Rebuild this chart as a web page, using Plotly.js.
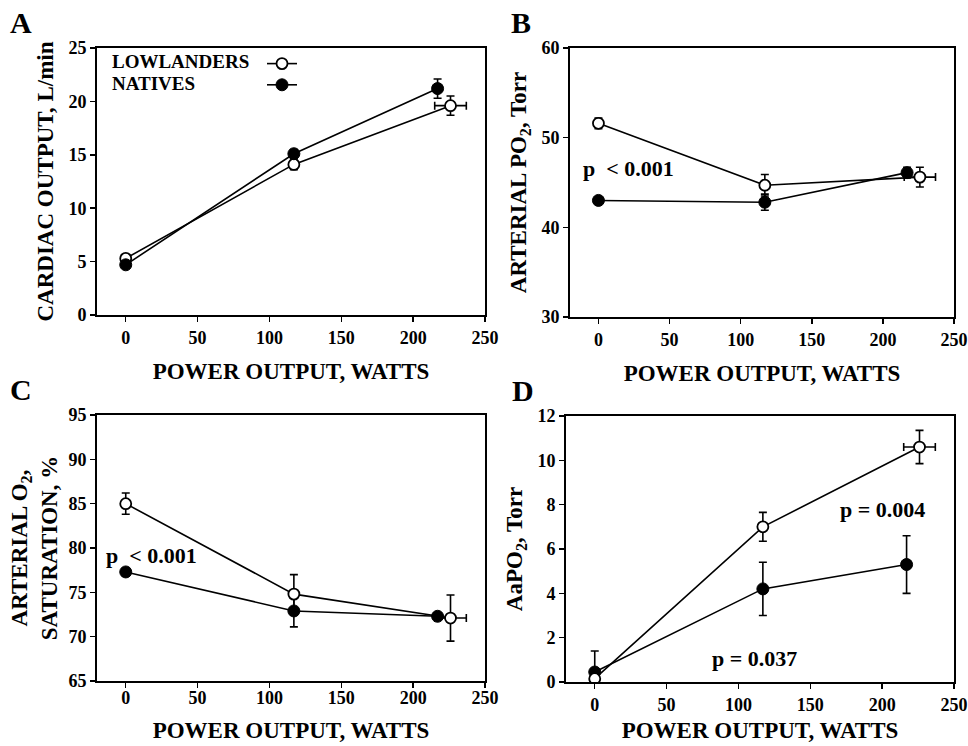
<!DOCTYPE html>
<html>
<head>
<meta charset="utf-8">
<script src="https://cdn.plot.ly/plotly-3.0.1.min.js"></script>
<style>html,body{margin:0;padding:0;background:#fff;}#chart{width:968px;height:746px;}</style>
</head>
<body>
<div id="chart"></div>
<script>
// ---- Data ----
const wattsLow = [0, 117, 226];
const wattsNat = [0, 117, 217];
const wattsLowErr = [0, 0, 11];

// A: Cardiac output, L/min
const coLow = [5.3, 14.1, 19.6];
const coLowErr = [0.3, 0.5, 0.9];
const coNat = [4.7, 15.1, 21.2];
const coNatErr = [0.3, 0.4, 0.9];

// B: Arterial PO2, Torr
const po2Low = [51.6, 44.7, 45.6];
const po2LowErr = [0.6, 1.2, 1.1];
const po2Nat = [43.0, 42.8, 46.1];
const po2NatErr = [0.3, 0.9, 0.6];

// C: Arterial O2 saturation, %
const satLow = [85.0, 74.8, 72.1];
const satLowErr = [1.2, 2.2, 2.6];
const satNat = [77.3, 72.9, 72.3];
const satNatErr = [0.4, 1.8, 0.3];

// D: AaPO2, Torr
const aaLow = [0.15, 7.0, 10.6];
const aaLowErr = [0.2, 0.65, 0.75];
const aaNat = [0.45, 4.2, 5.3];
const aaNatErr = [0.95, 1.2, 1.3];

const seriesNames = ['LOWLANDERS', 'NATIVES'];
const xTickVals = [0, 50, 100, 150, 200, 250];
const yTicksA = [0, 5, 10, 15, 20, 25];
const yTicksB = [30, 40, 50, 60];
const yTicksC = [65, 70, 75, 80, 85, 90, 95];
const yTicksD = [0, 2, 4, 6, 8, 10, 12];

// ---- Styles ----
const FONT = 'Liberation Serif';
const BLACK = '#000';

function lowTrace(y, yerr, xa, ya, legend) {
  return {
    type: 'scatter', mode: 'lines+markers', name: legend ? '\u00a0' : seriesNames[0],
    hovertemplate: seriesNames[0] + ': %{x}, %{y}<extra></extra>',
    x: wattsLow, y: y, xaxis: xa, yaxis: ya, showlegend: !!legend,
    line: {color: BLACK, width: 1.6},
    marker: {symbol: 'circle', size: 11, color: '#fff', line: {color: BLACK, width: 1.8}},
    error_y: {type: 'data', array: yerr, visible: true, color: BLACK, thickness: 1.6, width: 4},
    error_x: {type: 'data', array: wattsLowErr, visible: true, color: BLACK, thickness: 1.6, width: 4}
  };
}
function natTrace(y, yerr, xa, ya, legend) {
  return {
    type: 'scatter', mode: 'lines+markers', name: legend ? '\u00a0' : seriesNames[1],
    hovertemplate: seriesNames[1] + ': %{x}, %{y}<extra></extra>',
    x: wattsNat, y: y, xaxis: xa, yaxis: ya, showlegend: !!legend,
    line: {color: BLACK, width: 1.6},
    marker: {symbol: 'circle', size: 12, color: BLACK, line: {color: BLACK, width: 1}},
    error_y: {type: 'data', array: yerr, visible: true, color: BLACK, thickness: 1.6, width: 4}
  };
}

const data = [
  lowTrace(coLow, coLowErr, 'x', 'y', true),
  natTrace(coNat, coNatErr, 'x', 'y', true),
  natTrace(po2Nat, po2NatErr, 'x2', 'y2', false),
  lowTrace(po2Low, po2LowErr, 'x2', 'y2', false),
  natTrace(satNat, satNatErr, 'x3', 'y3', false),
  lowTrace(satLow, satLowErr, 'x3', 'y3', false),
  natTrace(aaNat, aaNatErr, 'x4', 'y4', false),
  lowTrace(aaLow, aaLowErr, 'x4', 'y4', false)
];

const W = 968, H = 746;
function dx(a, b) { return [a / W, b / W]; }
function dy(top, bottom) { return [1 - bottom / H, 1 - top / H]; }

function tickFont() { return {family: FONT, size: 18, color: BLACK, weight: 'bold'}; }
const TITLEFONT = {family: FONT, size: 23, color: BLACK};

function xAxis(domain, anchor, standoff, labelShift) {
  return {
    domain: domain, anchor: anchor, range: [-20, 250],
    tickmode: 'array', tickvals: xTickVals,
    ticklabelstandoff: labelShift || 0,
    showline: true, linecolor: BLACK, linewidth: 2, mirror: true,
    ticks: 'outside', ticklen: 5, tickwidth: 1.5, tickcolor: BLACK,
    showgrid: false, zeroline: false, tickfont: tickFont(),
    title: {text: '<b>POWER OUTPUT, WATTS</b>', standoff: standoff, font: TITLEFONT}
  };
}
function yAxis(domain, anchor, range, ticks, title, standoff) {
  return {
    domain: domain, anchor: anchor, range: range,
    tickmode: 'array', tickvals: ticks,
    showline: true, linecolor: BLACK, linewidth: 2, mirror: true,
    ticks: 'outside', ticklen: 5, tickwidth: 1.5, tickcolor: BLACK,
    showgrid: false, zeroline: false, tickfont: tickFont(),
    title: {text: title, standoff: standoff, font: TITLEFONT}
  };
}

function note(text, xref, yref, x, y, size, anchor) {
  return {text: '<b>' + text + '</b>', xref: xref, yref: yref, x: x, y: y,
          xanchor: anchor || 'left', yanchor: 'middle', showarrow: false,
          font: {family: FONT, size: size, color: BLACK}};
}

const layout = {
  width: W, height: H,
  margin: {l: 0, r: 0, t: 0, b: 0},
  paper_bgcolor: '#fff', plot_bgcolor: '#fff',
  showlegend: true,
  legend: {x: 262 / W, y: 1 - 48 / H, xanchor: 'left', yanchor: 'top',
           bgcolor: 'rgba(0,0,0,0)', font: {family: FONT, size: 14, color: BLACK},
           itemclick: false, itemdoubleclick: false, tracegroupgap: 0},
  xaxis: xAxis(dx(97, 485), 'y', 16),
  yaxis: yAxis(dy(48, 315), 'x', [0, 25], yTicksA, '<b>CARDIAC OUTPUT, L/min</b>', 8),
  xaxis2: xAxis(dx(570, 954), 'y2', 16),
  yaxis2: yAxis(dy(48, 317), 'x2', [30, 60], yTicksB, '<b>ARTERIAL PO<sub>2</sub>, Torr</b>', 8),
  xaxis3: xAxis(dx(97, 485), 'y3', 15, -6),
  yaxis3: yAxis(dy(415, 681), 'x3', [65, 95], yTicksC, '<b>ARTERIAL O<sub>2</sub>,<br>SATURATION, %</b>', 4),
  xaxis4: xAxis(dx(566, 954), 'y4', 8),
  yaxis4: yAxis(dy(416, 682), 'x4', [0, 12], yTicksD, '<b>AaPO<sub>2</sub>, Torr</b>', 8),
  annotations: [
    note('A', 'paper', 'paper', 8 / W, 1 - 22 / H, 30),
    note('B', 'paper', 'paper', 509 / W, 1 - 22 / H, 30),
    note('C', 'paper', 'paper', 8 / W, 1 - 389 / H, 30),
    note('D', 'paper', 'paper', 510 / W, 1 - 390 / H, 30),
    note('LOWLANDERS', 'x', 'y', -11, 23.7, 19),
    note('NATIVES', 'x', 'y', -11, 21.7, 19),
    note('p  &lt; 0.001', 'x2', 'y2', -12.5, 46.6, 22),
    note('p  &lt; 0.001', 'x3', 'y3', -15, 79.1, 22),
    note('p = 0.004', 'x4', 'y4', 169, 7.76, 22),
    note('p = 0.037', 'x4', 'y4', 80, 1.04, 22)
  ]
};

Plotly.newPlot('chart', data, layout, {displayModeBar: false, staticPlot: true});
</script>
</body>
</html>
